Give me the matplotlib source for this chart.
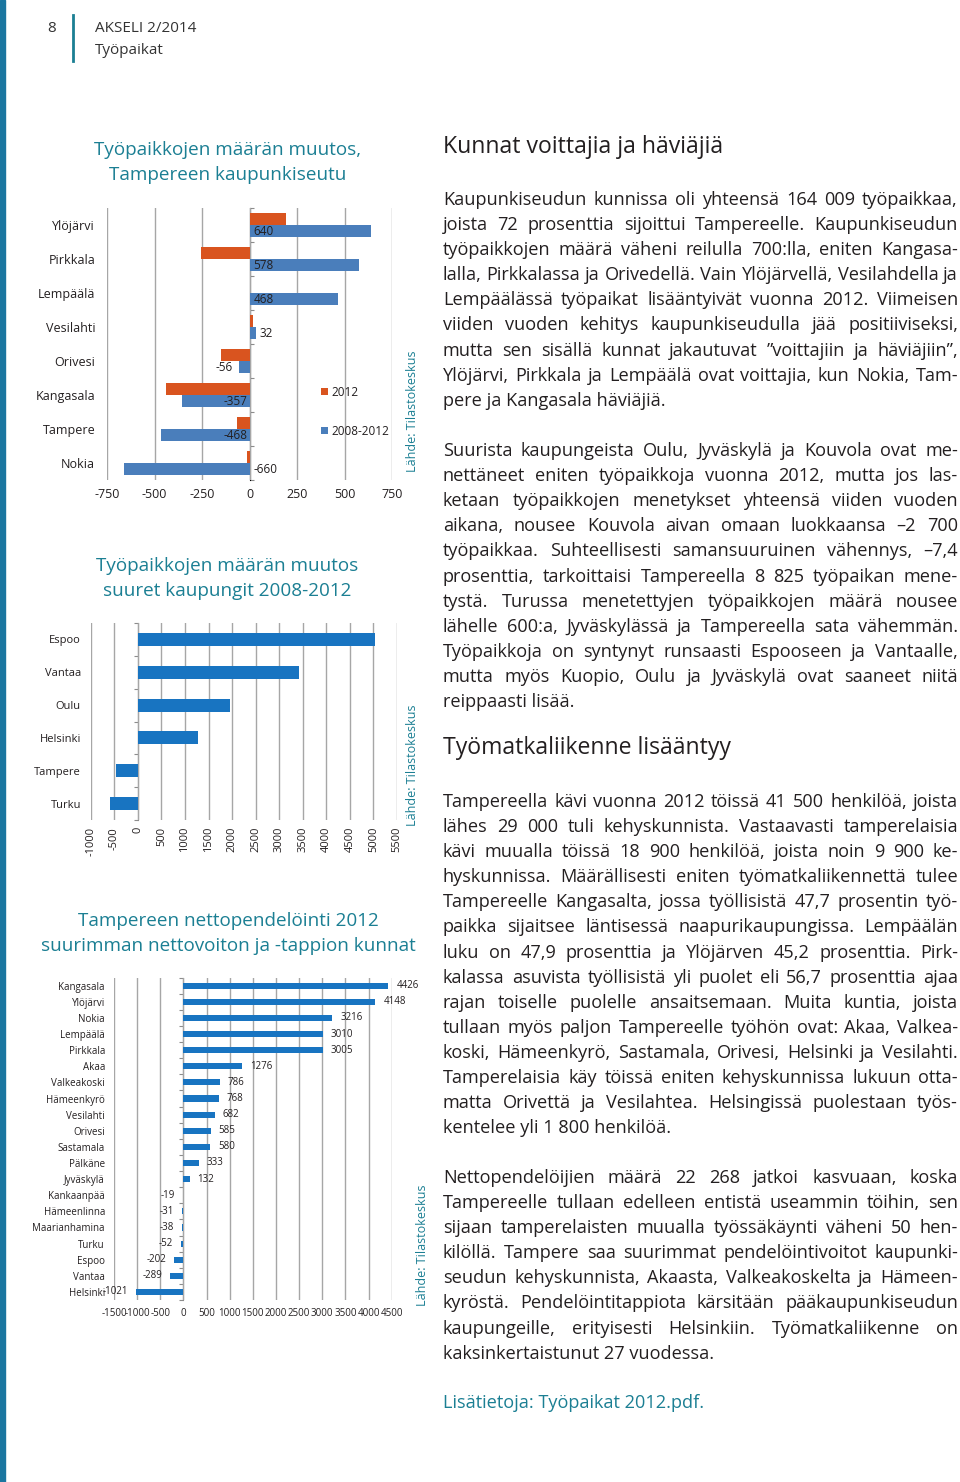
import matplotlib
matplotlib.use("Agg")
import numpy as np
import matplotlib.pyplot as plt
from matplotlib.patches import Rectangle
from matplotlib.lines import Line2D

W, H = 960, 1482
plt.rcParams['font.family'] = ['Open Sans', 'DejaVu Sans']
plt.rcParams['axes.unicode_minus'] = False

# --- data ---
seutu_kunnat = ['Ylöjärvi', 'Pirkkala', 'Lempäälä', 'Vesilahti', 'Orivesi', 'Kangasala', 'Tampere', 'Nokia']
muutos_2012 = [190, -255, 3, 20, -150, -437, -68, -15]
muutos_2008_2012 = [640, 578, 468, 32, -56, -357, -468, -660]

kaupungit = ['Espoo', 'Vantaa', 'Oulu', 'Helsinki', 'Tampere', 'Turku']
kaupungit_muutos = [5040, 3410, 1950, 1280, -468, -590]

pendel_kunnat = ['Kangasala', 'Ylöjärvi', 'Nokia', 'Lempäälä', 'Pirkkala', 'Akaa', 'Valkeakoski',
                 'Hämeenkyrö', 'Vesilahti', 'Orivesi', 'Sastamala', 'Pälkäne', 'Jyväskylä',
                 'Kankaanpää', 'Hämeenlinna', 'Maarianhamina', 'Turku', 'Espoo', 'Vantaa', 'Helsinki']
pendel_netto = [4426, 4148, 3216, 3010, 3005, 1276, 786, 768, 682, 585, 580, 333, 132,
                -19, -31, -38, -52, -202, -289, -1021]

kpl1 = ["Kaupunkiseudun kunnissa oli yhteensä 164 009 työpaikkaa,",
        "joista 72 prosenttia sijoittui Tampereelle. Kaupunkiseudun",
        "työpaikkojen määrä väheni reilulla 700:lla, eniten Kangasa-",
        "lalla, Pirkkalassa ja Orivedellä. Vain Ylöjärvellä, Vesilahdella ja",
        "Lempäälässä työpaikat lisääntyivät vuonna 2012. Viimeisen",
        "viiden vuoden kehitys kaupunkiseudulla jää positiiviseksi,",
        "mutta sen sisällä kunnat jakautuvat ”voittajiin ja häviäjiin”,",
        "Ylöjärvi, Pirkkala ja Lempäälä ovat voittajia, kun Nokia, Tam-",
        "pere ja Kangasala häviäjiä."]
kpl2 = ["Suurista kaupungeista Oulu, Jyväskylä ja Kouvola ovat me-",
        "nettäneet eniten työpaikkoja vuonna 2012, mutta jos las-",
        "ketaan työpaikkojen menetykset yhteensä viiden vuoden",
        "aikana, nousee Kouvola aivan omaan luokkaansa –2 700",
        "työpaikkaa. Suhteellisesti samansuuruinen vähennys, –7,4",
        "prosenttia, tarkoittaisi Tampereella 8 825 työpaikan mene-",
        "tystä. Turussa menetettyjen työpaikkojen määrä nousee",
        "lähelle 600:a, Jyväskylässä ja Tampereella sata vähemmän.",
        "Työpaikkoja on syntynyt runsaasti Espooseen ja Vantaalle,",
        "mutta myös Kuopio, Oulu ja Jyväskylä ovat saaneet niitä",
        "reippaasti lisää."]
kpl3 = ["Tampereella kävi vuonna 2012 töissä 41 500 henkilöä, joista",
        "lähes 29 000 tuli kehyskunnista. Vastaavasti tamperelaisia",
        "kävi muualla töissä 18 900 henkilöä, joista noin 9 900 ke-",
        "hyskunnissa. Määrällisesti eniten työmatkaliikennettä tulee",
        "Tampereelle Kangasalta, jossa työllisistä 47,7 prosentin työ-",
        "paikka sijaitsee läntisessä naapurikaupungissa. Lempäälän",
        "luku on 47,9 prosenttia ja Ylöjärven 45,2 prosenttia. Pirk-",
        "kalassa asuvista työllisistä yli puolet eli 56,7 prosenttia ajaa",
        "rajan toiselle puolelle ansaitsemaan. Muita kuntia, joista",
        "tullaan myös paljon Tampereelle työhön ovat: Akaa, Valkea-",
        "koski, Hämeenkyrö, Sastamala, Orivesi, Helsinki ja Vesilahti.",
        "Tamperelaisia käy töissä eniten kehyskunnissa lukuun otta-",
        "matta Orivettä ja Vesilahtea. Helsingissä puolestaan työs-",
        "kentelee yli 1 800 henkilöä."]
kpl4 = ["Nettopendelöijien määrä 22 268 jatkoi kasvuaan, koska",
        "Tampereelle tullaan edelleen entistä useammin töihin, sen",
        "sijaan tamperelaisten muualla työssäkäynti väheni 50 hen-",
        "kilöllä. Tampere saa suurimmat pendelöintivoitot kaupunki-",
        "seudun kehyskunnista, Akaasta, Valkeakoskelta ja Hämeen-",
        "kyröstä. Pendelöintitappiota kärsitään pääkaupunkiseudun",
        "kaupungeille, erityisesti Helsinkiin. Työmatkaliikenne on",
        "kaksinkertaistunut 27 vuodessa."]

TEAL = '#1b7f93'
TXT = '#231f20'
ORANGE = '#d9541f'
BLUE1 = '#4a7ebb'
BLUE2 = '#1874c1'
GRID = '#a6a6a6'

fig = plt.figure(figsize=(W / 100, H / 100), dpi=100)
renderer = fig.canvas.get_renderer()


def fx(x):
    return x / W


def fy(y):
    return 1 - y / H


def box(l, t, r, b):
    return [l / W, 1 - b / H, (r - l) / W, (b - t) / H]


# page frame
fig.patches.append(Rectangle((0, 0), fx(5), 1, transform=fig.transFigure, color='#1a76a0'))
fig.lines.append(Line2D([fx(73), fx(73)], [fy(15), fy(61)], transform=fig.transFigure, color=TEAL, lw=2))
fig.text(fx(52), fy(28), '8', fontsize=11, color='#333333', ha='center', va='center')
fig.text(fx(95), fy(28), 'AKSELI 2/2014', fontsize=11, color='#333333', va='center')
fig.text(fx(95), fy(51), 'Työpaikat', fontsize=11, color='#333333', va='center')


def perus(ax, n, xlim, ticks, lab_size, pad):
    ax.set_xlim(*xlim)
    ax.set_ylim(n - 0.5, -0.5)
    ax.set_xticks(ticks)
    ax.grid(axis='x', color=GRID, lw=1)
    ax.set_axisbelow(True)
    for s in ax.spines.values():
        s.set_visible(False)
    ax.tick_params(axis='y', length=0, labelsize=lab_size, pad=pad, labelcolor=TXT)
    ax.tick_params(axis='x', length=0, labelcolor=TXT)
    loc = (0 - xlim[0]) / (xlim[1] - xlim[0])
    sec = ax.secondary_yaxis(loc)
    sec.set_yticks(np.arange(-0.5, n, 1))
    sec.set_yticklabels([])
    sec.tick_params(length=3, direction='out', color='#8c8c8c')
    sec.spines['left'].set_color('#8c8c8c')


# ---- chart 1 ----
fig.text(fx(228), fy(150), 'Työpaikkojen määrän muutos,', fontsize=13.6, color=TEAL, ha='center', va='center')
fig.text(fx(228), fy(175), 'Tampereen kaupunkiseutu', fontsize=13.6, color=TEAL, ha='center', va='center')
ax1 = fig.add_axes(box(107, 208, 392, 480))
y1 = np.arange(len(seutu_kunnat))
ax1.barh(y1 - 0.175, muutos_2012, height=0.36, color=ORANGE, label='2012')
ax1.barh(y1 + 0.175, muutos_2008_2012, height=0.36, color=BLUE1, label='2008-2012')
perus(ax1, len(seutu_kunnat), (-750, 750), np.arange(-750, 751, 250), 9, 8.5)
ax1.set_yticks(y1, seutu_kunnat)
ax1.tick_params(axis='x', labelsize=9, pad=6)
for yi, v in zip(y1, muutos_2008_2012):
    if abs(v) < 100:
        x, off = v, (4 if v > 0 else -6)
    elif v > -600:
        x, off = 0, (4 if v > 0 else -2)
    else:
        x, off = 0, 4
    ax1.annotate(str(v), (x, yi + 0.2), xytext=(off, 0), textcoords='offset pixels',
                 ha='left' if off > 0 else 'right', va='center', fontsize=8.5, color=TXT)
ax1.legend(loc='upper left', bbox_to_anchor=(fx(310), fy(375)), bbox_transform=fig.transFigure,
           frameon=False, handlelength=0.6, handleheight=0.6, handletextpad=0.3,
           labelspacing=2.2, fontsize=8.5, labelcolor=TXT)
fig.text(fx(412), fy(411), 'Lähde: Tilastokeskus', rotation=90, fontsize=9, color=TEAL, ha='center', va='center')

# ---- chart 2 ----
fig.text(fx(227), fy(566), 'Työpaikkojen määrän muutos', fontsize=13.6, color=TEAL, ha='center', va='center')
fig.text(fx(227), fy(591), 'suuret kaupungit 2008-2012', fontsize=13.6, color=TEAL, ha='center', va='center')
ax2 = fig.add_axes(box(90.7, 623, 397, 820))
y2 = np.arange(len(kaupungit))
ax2.barh(y2, kaupungit_muutos, height=0.4, color=BLUE2)
perus(ax2, len(kaupungit), (-1000, 5500), np.arange(-1000, 5501, 500), 8, 7)
ax2.set_yticks(y2, kaupungit)
ax2.tick_params(axis='x', labelsize=8, pad=5, labelrotation=90)
fig.text(fx(412), fy(765), 'Lähde: Tilastokeskus', rotation=90, fontsize=9, color=TEAL, ha='center', va='center')

# ---- chart 3 ----
fig.text(fx(228), fy(921), 'Tampereen nettopendelöinti 2012', fontsize=13.6, color=TEAL, ha='center', va='center')
fig.text(fx(228), fy(946), 'suurimman nettovoiton ja -tappion kunnat', fontsize=13.6, color=TEAL, ha='center', va='center')
ax3 = fig.add_axes(box(114, 977.6, 391.7, 1300))
y3 = np.arange(len(pendel_kunnat))
ax3.barh(y3, pendel_netto, height=0.38, color=BLUE2)
perus(ax3, len(pendel_kunnat), (-1500, 4500), np.arange(-1500, 4501, 500), 7, 6.5)
ax3.set_yticks(y3, pendel_kunnat)
ax3.tick_params(axis='x', labelsize=7, pad=6)
for yi, v in zip(y3, pendel_netto):
    off = 8 if v > 0 else -8
    ax3.annotate(str(v), (v, yi), xytext=(off, 0), textcoords='offset pixels',
                 ha='left' if v > 0 else 'right', va='center', fontsize=7, color=TXT)
fig.text(fx(422), fy(1245), 'Lähde: Tilastokeskus', rotation=90, fontsize=9, color=TEAL, ha='center', va='center')

# ---- text column ----
LEVEYS = 515


def leveys(s, size):
    t = fig.text(0, 0, s, fontsize=size)
    w = t.get_window_extent(renderer).width
    t.remove()
    return w


# body size: the tightest justified line fills the column with normal spacing
kaikki = [r for k in (kpl1, kpl2, kpl3, kpl4) for r in k[:-1]]
koko = 12.0 * LEVEYS / max(leveys(r, 12.0) for r in kaikki) * 0.995


def kappale(lines, x0, y0, step, size):
    for i, line in enumerate(lines):
        yb = fy(y0 + i * step)
        words = line.split(' ')
        if i == len(lines) - 1 or len(words) == 1:
            fig.text(fx(x0), yb, line, fontsize=size, color=TXT, va='baseline')
            continue
        ts = [fig.text(0, yb, w, fontsize=size, color=TXT, va='baseline') for w in words]
        ws = [t.get_window_extent(renderer).width for t in ts]
        gap = (LEVEYS - sum(ws)) / (len(words) - 1)
        x = x0
        for t, w in zip(ts, ws):
            t.set_x(fx(x))
            x += w + gap


fig.text(fx(443), fy(147), 'Kunnat voittajia ja häviäjiä', fontsize=16.6, color=TXT, va='center')
kappale(kpl1, 443, 205, 25.1, koko)
kappale(kpl2, 443, 456, 25.1, koko)
fig.text(fx(443), fy(748), 'Työmatkaliikenne lisääntyy', fontsize=16.6, color=TXT, va='center')
kappale(kpl3, 443, 807, 25.1, koko)
kappale(kpl4, 443, 1183, 25.1, koko)
fig.text(fx(443), fy(1403), 'Lisätietoja: Työpaikat 2012.pdf.', fontsize=koko, color=TEAL, va='center')

fig.savefig('out.png', dpi=100)
